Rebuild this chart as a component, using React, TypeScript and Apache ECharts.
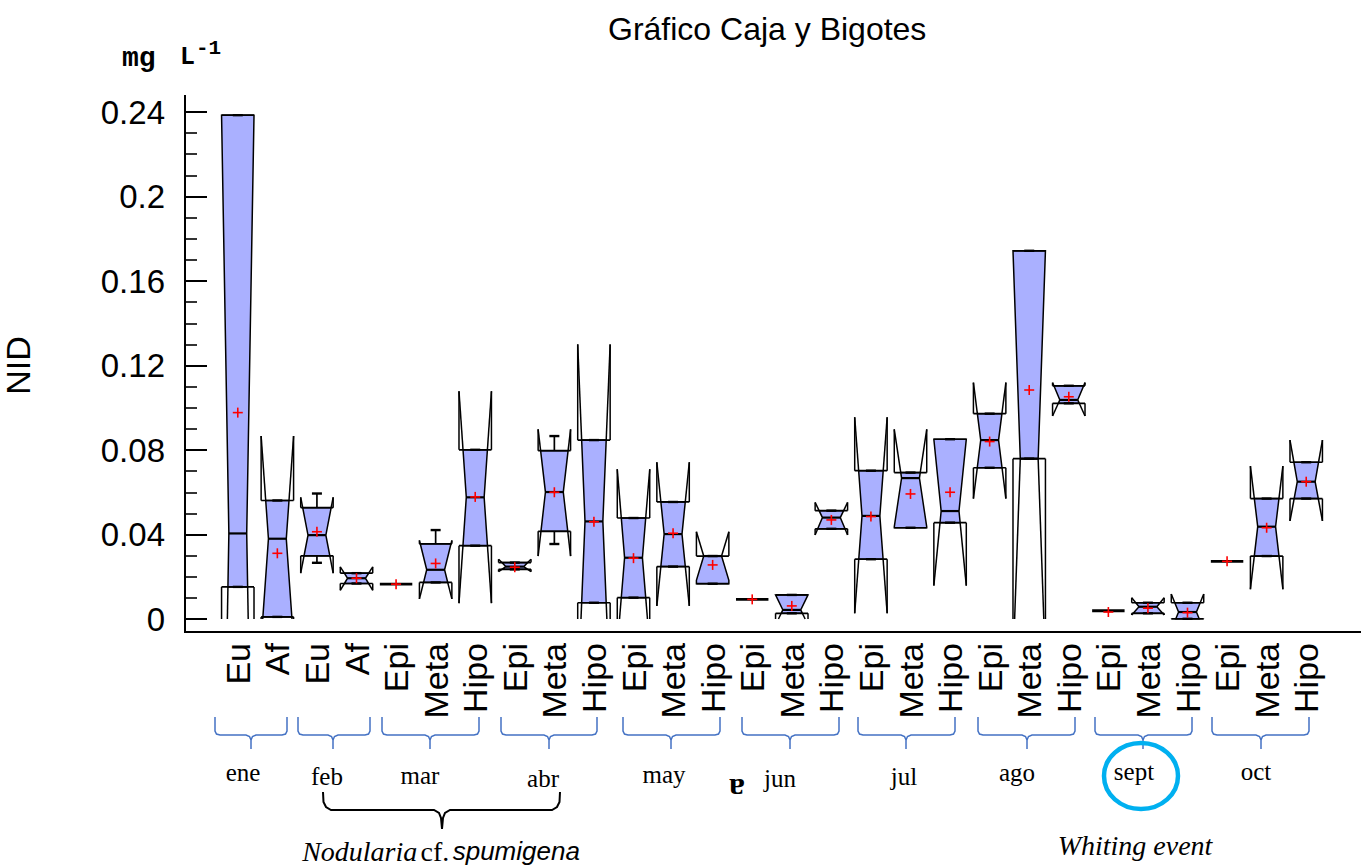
import React, { useEffect, useRef } from 'react';
import * as echarts from 'echarts';

// ---- data (mg L-1) ----
const categories = ['Eu', 'Af', 'Eu', 'Af', 'Epi', 'Meta', 'Hipo', 'Epi', 'Meta', 'Hipo', 'Epi', 'Meta', 'Hipo', 'Epi', 'Meta', 'Hipo', 'Epi', 'Meta', 'Hipo', 'Epi', 'Meta', 'Hipo', 'Epi', 'Meta', 'Hipo', 'Epi', 'Meta', 'Hipo'];
const whiskerLow = [0.0152, 0.001, 0.0266, 0.0168, 0.0165, 0.0173, 0.0347, 0.0235, 0.0355, 0.0077, 0.0101, 0.0248, 0.0167, 0.0093, 0.0027, 0.0427, 0.0283, 0.0432, 0.0456, 0.0716, 0.0759, 0.1021, 0.0039, 0.0027, 0.0001, 0.0273, 0.0298, 0.057];
const q1 = [0.0152, 0.001, 0.0299, 0.0168, 0.0165, 0.0173, 0.0347, 0.0235, 0.0415, 0.0077, 0.0101, 0.0248, 0.0167, 0.0093, 0.0027, 0.0427, 0.0283, 0.0432, 0.0456, 0.0716, 0.0759, 0.1021, 0.0039, 0.0027, 0.0001, 0.0273, 0.0298, 0.057];
const medians = [0.0405, 0.038, 0.0397, 0.0193, 0.0165, 0.0233, 0.0576, 0.0248, 0.0601, 0.0462, 0.029, 0.0402, 0.0298, 0.0093, 0.0043, 0.048, 0.0488, 0.0667, 0.0511, 0.0847, 0.0759, 0.1037, 0.0039, 0.0058, 0.0033, 0.0273, 0.0437, 0.065];
const q3 = [0.2385, 0.0561, 0.0527, 0.0217, 0.0165, 0.0356, 0.0801, 0.0267, 0.0797, 0.0847, 0.0478, 0.0554, 0.0298, 0.0093, 0.0114, 0.0513, 0.0702, 0.0693, 0.0851, 0.0972, 0.1743, 0.1104, 0.0039, 0.0077, 0.0077, 0.0273, 0.057, 0.0742];
const whiskerHigh = [0.2385, 0.0561, 0.0594, 0.0217, 0.0165, 0.0421, 0.0801, 0.0267, 0.0866, 0.0847, 0.0478, 0.0554, 0.0298, 0.0093, 0.0114, 0.0513, 0.0702, 0.0693, 0.0851, 0.0972, 0.1743, 0.1104, 0.0039, 0.0077, 0.0077, 0.0273, 0.057, 0.0742];
const means = [0.0977, 0.0311, 0.0413, 0.0193, 0.0165, 0.0263, 0.0578, 0.0245, 0.06, 0.046, 0.0288, 0.0406, 0.0256, 0.0093, 0.0062, 0.0469, 0.0485, 0.0592, 0.06, 0.084, 0.1084, 0.1052, 0.0033, 0.0051, 0.003, 0.0273, 0.0432, 0.065];
const notchLow = [-0.157, -0.0106, 0.0217, 0.0136, 0.0165, 0.0095, 0.0075, 0.0224, 0.0298, -0.0376, -0.0129, 0.0062, 0.0183, 0.0093, -0.0028, 0.0398, 0.0027, 0.0436, 0.0158, 0.057, -0.022, 0.0961, 0.0039, 0.0019, -0.0052, 0.0273, 0.0141, 0.0464];
const notchHigh = [0.2385, 0.0866, 0.0576, 0.0247, 0.0165, 0.0372, 0.1078, 0.0283, 0.0898, 0.13, 0.0709, 0.0742, 0.0413, 0.0093, 0.0114, 0.0552, 0.0955, 0.0898, 0.0851, 0.1119, 0.1743, 0.1119, 0.0039, 0.0101, 0.0118, 0.0273, 0.0724, 0.0847];

const yMin = 0;
const yMax = 0.24;
const yInterval = 0.04;
const yMinorInterval = 0.01;

const months = ['ene', 'feb', 'mar', 'abr', 'may', 'jun', 'jul', 'ago', 'sept', 'oct'];

// ---- annotation layout (pixels) ----
const braceSpans = [[215, 287, 251], [298, 370, 333], [382, 479, 430], [501, 597, 549], [623, 720, 671], [742, 839, 790], [858, 955, 906], [978, 1075, 1027], [1095, 1192, 1143], [1212, 1309, 1261]];
const monthPos = [[243, 772], [327, 776], [420, 775], [543, 778], [664, 774], [780, 778], [904, 776], [1017, 772], [1134, 771], [1256, 771]];

const BOX_FILL = '#AAB0FF';

function renderBox(params: any, api: any) {
  const idx = api.value(0);
  const wLo = api.value(1);
  const b1 = api.value(2);
  const md = api.value(3);
  const b3 = api.value(4);
  const wHi = api.value(5);
  const mean = api.value(6);
  const nLo = api.value(7);
  const nHi = api.value(8);
  const band = api.size([1, 0])[0];
  const w = band * 0.41;
  const wn = w * 0.55;
  const cx = api.coord([idx, md])[0];
  const Y = (v: number) => api.coord([idx, Math.max(v, yMin)])[1];
  const hw = (v: number) => {
    if (v >= nHi || v <= nLo) return w;
    if (v >= md) return nHi === md ? w : wn + ((w - wn) * (v - md)) / (nHi - md);
    return md === nLo ? w : wn + ((w - wn) * (md - v)) / (md - nLo);
  };
  const line = (x1: number, y1: number, x2: number, y2: number, lw = 1.5, color = '#000') => ({
    type: 'line',
    shape: { x1, y1, x2, y2 },
    style: { stroke: color, lineWidth: lw },
  });
  const children: any[] = [];
  const meanY = Y(mean);
  const meanMarks = [line(cx - 5, meanY, cx + 5, meanY, 1.6, '#FF0000'), line(cx, meanY - 5, cx, meanY + 5, 1.6, '#FF0000')];
  if (b3 - b1 < 1e-9) {
    children.push(line(cx - w, Y(b1), cx + w, Y(b1), 2.8));
    children.push(...meanMarks);
    return { type: 'group', children };
  }
  const levels = [b3];
  if (nHi < b3 && nHi > b1) levels.push(nHi);
  if (md < b3 && md > b1) levels.push(md);
  if (nLo < b3 && nLo > b1) levels.push(nLo);
  levels.push(b1);
  const left = levels.map((v) => [cx - hw(v), Y(v)]);
  const right = levels.slice().reverse().map((v) => [cx + hw(v), Y(v)]);
  children.push({
    type: 'polygon',
    shape: { points: left.concat(right) },
    style: { fill: BOX_FILL, stroke: '#000', lineWidth: 1.5 },
  });
  if (nHi > b3) {
    const top = Math.min(nHi, yMax);
    children.push(line(cx - w, Y(b3), cx - w, Y(top)));
    children.push(line(cx + w, Y(b3), cx + w, Y(top)));
    children.push(line(cx - hw(top), Y(top), cx - hw(b3), Y(b3)));
    children.push(line(cx + hw(top), Y(top), cx + hw(b3), Y(b3)));
  }
  if (nLo < b1) {
    const bot = Math.max(nLo, yMin);
    children.push(line(cx - w, Y(b1), cx - w, Y(bot)));
    children.push(line(cx + w, Y(b1), cx + w, Y(bot)));
    children.push(line(cx - hw(bot), Y(bot), cx - hw(b1), Y(b1)));
    children.push(line(cx + hw(bot), Y(bot), cx + hw(b1), Y(b1)));
  }
  children.push(line(cx - w, Y(b3), cx + w, Y(b3), 1.7));
  children.push(line(cx - w, Y(b1), cx + w, Y(b1), 1.7));
  children.push(line(cx - hw(md), Y(md), cx + hw(md), Y(md), 2.2));
  if (wHi > b3) children.push(line(cx, Y(b3), cx, Y(wHi), 1.7));
  if (wLo < b1) children.push(line(cx, Y(b1), cx, Y(wLo), 1.7));
  children.push(line(cx - 5, Y(wHi), cx + 5, Y(wHi), 2.4));
  children.push(line(cx - 5, Y(wLo), cx + 5, Y(wLo), 2.4));
  children.push(...meanMarks);
  return { type: 'group', children };
}

function bracePolylines(x1: number, x2: number, cx: number, color: string) {
  const top = 717;
  const mid = 735;
  const bot = 749;
  const st = { stroke: color, lineWidth: 1.5, fill: 'none' };
  return [
    { type: 'polyline', shape: { points: [[x1, top], [x1, mid - 4], [x1 + 1.5, mid - 1], [x1 + 5, mid], [cx - 5, mid], [cx - 1.5, mid + 1.5], [cx, mid + 5], [cx, bot]] }, style: st },
    { type: 'polyline', shape: { points: [[x2, top], [x2, mid - 4], [x2 - 1.5, mid - 1], [x2 - 5, mid], [cx + 5, mid], [cx + 1.5, mid + 1.5], [cx, mid + 5]] }, style: st },
  ];
}

export default function App() {
  const ref = useRef<HTMLDivElement>(null);
  useEffect(() => {
    if (!ref.current) return;
    const chart = echarts.init(ref.current, undefined, { renderer: 'svg' });
    const data = categories.map((c, i) => [i, whiskerLow[i], q1[i], medians[i], q3[i], whiskerHigh[i], means[i], notchLow[i], notchHigh[i]]);

    const graphics: any[] = [
      { type: 'line', shape: { x1: 185, y1: 95, x2: 185, y2: 633 }, style: { stroke: '#000', lineWidth: 2 } },
      { type: 'line', shape: { x1: 184, y1: 632, x2: 1361, y2: 632 }, style: { stroke: '#000', lineWidth: 2.2 } },
      { type: 'text', x: 122, y: 58, style: { text: 'mg', fontFamily: 'Liberation Mono', fontWeight: 'bold', fontSize: 28, fill: '#000', verticalAlign: 'middle' } },
      { type: 'text', x: 180, y: 57, style: { text: 'L', fontFamily: 'Liberation Mono', fontWeight: 'bold', fontSize: 25, fill: '#000', verticalAlign: 'middle' } },
      { type: 'text', x: 196, y: 48, style: { text: '-1', fontFamily: 'Liberation Mono', fontWeight: 'bold', fontSize: 21, fill: '#000', verticalAlign: 'middle' } },
    ];
    braceSpans.forEach(([a, b, c]) => graphics.push(...bracePolylines(a, b, c, '#4472C4')));
    months.forEach((m, i) => {
      graphics.push({
        type: 'text',
        x: monthPos[i][0],
        y: monthPos[i][1],
        style: { text: m, fontFamily: 'Liberation Serif', fontSize: 25, fill: '#000', align: 'center', verticalAlign: 'middle' },
      });
    });
    graphics.push({
      type: 'text',
      x: 737,
      y: 783,
      style: { text: 'ɐ', fontFamily: 'Liberation Serif', fontWeight: 'bold', fontSize: 32, fill: '#000', align: 'center', verticalAlign: 'middle' },
    });
    const bst = { stroke: '#000', lineWidth: 2, fill: 'none' };
    graphics.push({ type: 'polyline', shape: { points: [[323, 792], [323.5, 802], [326, 807], [331, 810], [434, 810], [439, 813], [441, 818], [442, 829]] }, style: bst });
    graphics.push({ type: 'polyline', shape: { points: [[560, 792], [559.5, 802], [557, 807], [552, 810], [450, 810], [445, 813], [443, 818], [442, 829]] }, style: bst });
    graphics.push({
      type: 'text',
      x: 441,
      y: 851,
      style: {
        text: '{i|Nodularia} {r|cf.} {s|spumigena}',
        align: 'center',
        verticalAlign: 'middle',
        rich: {
          i: { fontFamily: 'Liberation Serif', fontStyle: 'italic', fontSize: 28, fill: '#000' },
          r: { fontFamily: 'Liberation Serif', fontSize: 28, fill: '#000' },
          s: { fontFamily: 'Liberation Sans', fontStyle: 'italic', fontSize: 26, fill: '#000' },
        },
      },
    });
    graphics.push({
      type: 'text',
      x: 1135,
      y: 845,
      style: { text: 'Whiting event', fontFamily: 'Liberation Serif', fontStyle: 'italic', fontSize: 28, fill: '#000', align: 'center', verticalAlign: 'middle' },
    });
    graphics.push({
      type: 'ellipse',
      shape: { cx: 1141, cy: 776, rx: 37, ry: 33 },
      style: { fill: 'none', stroke: '#00B0F0', lineWidth: 4.5 },
    });

    chart.setOption({
      animation: false,
      backgroundColor: '#fff',
      title: {
        text: 'Gráfico Caja y Bigotes',
        left: 603,
        top: 8,
        textStyle: { fontFamily: 'Liberation Sans', fontWeight: 'normal', fontSize: 32, color: '#000' },
      },
      grid: [
        { left: 185, right: 0, top: 112, bottom: 247, containLabel: false, outerBoundsMode: 'none' },
        { left: 218, right: 35, top: 112, bottom: 247, containLabel: false, outerBoundsMode: 'none' },
      ],
      xAxis: [
        { gridIndex: 0, type: 'value', show: false, min: 0, max: 1 },
        {
          gridIndex: 1,
          type: 'category',
          data: categories,
          axisLine: { show: false },
          axisTick: { show: false },
          splitLine: { show: false },
          axisLabel: { rotate: 90, interval: 0, fontSize: 34, color: '#000', fontFamily: 'Liberation Sans', margin: 24, padding: [0, 0, 17, 0] },
        },
      ],
      yAxis: [
        {
          gridIndex: 0,
          type: 'value',
          position: 'left',
          min: yMin,
          max: yMax,
          interval: yInterval,
          name: 'NID',
          nameLocation: 'middle',
          nameGap: 150,
          nameTextStyle: { fontFamily: 'Liberation Sans', fontSize: 34, color: '#000' },
          axisLine: { show: false },
          axisTick: { show: true, inside: true, length: 22, lineStyle: { color: '#000', width: 2 } },
          splitLine: { show: false },
          axisLabel: { fontSize: 33, color: '#000', fontFamily: 'Liberation Sans', margin: 20 },
        },
        { gridIndex: 1, type: 'value', min: yMin, max: yMax, show: false },
        {
          gridIndex: 0,
          type: 'value',
          position: 'left',
          offset: 0,
          min: yMin,
          max: yMax,
          interval: yMinorInterval,
          axisLine: { show: false },
          axisTick: { show: true, inside: true, length: 12, lineStyle: { color: '#000', width: 1.6 } },
          axisLabel: { show: false },
          splitLine: { show: false },
        },
      ],
      graphic: graphics,
      series: [
        {
          type: 'custom',
          xAxisIndex: 1,
          yAxisIndex: 1,
          renderItem: renderBox,
          data,
          encode: { x: 0, y: [2, 4] },
          clip: false,
          silent: true,
        },
      ],
    });
    return () => chart.dispose();
  }, []);
  return <div ref={ref} style={{ position: 'fixed', left: 0, top: 0, width: 1361, height: 866, background: '#fff' }} />;
}
